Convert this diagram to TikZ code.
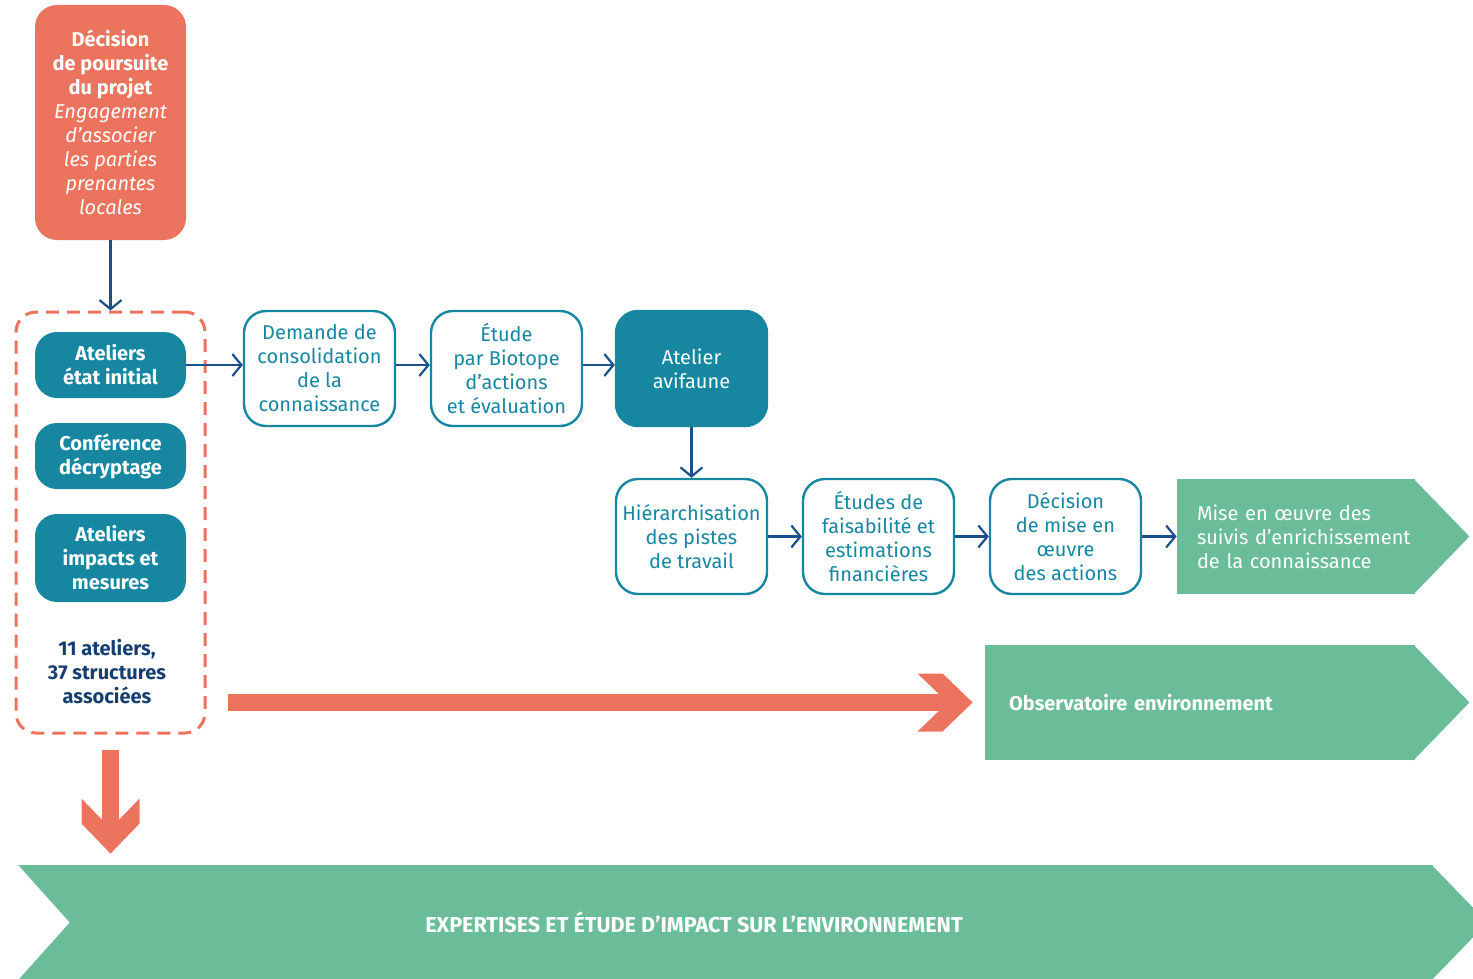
\documentclass[tikz,border=0pt]{standalone}
\usepackage{fontspec}
\setmainfont{Fira Sans}
\usetikzlibrary{arrows.meta,positioning,backgrounds}
\definecolor{SalmonClr}{rgb}{0.925,0.455,0.373}
\definecolor{TealClr}{rgb}{0.09,0.525,0.627}
\definecolor{NavyClr}{rgb}{0.106,0.314,0.545}
\definecolor{GreenClr}{rgb}{0.420,0.741,0.604}
\definecolor{InkClr}{rgb}{0.086,0.247,0.435}

\begin{document}
\begin{tikzpicture}[x=0.5pt,y=-0.5pt,
  font=\fontsize{10}{12}\selectfont,
  stepbox/.style={draw=TealClr,line width=1.2pt,rounded corners=11pt,text=TealClr,
    minimum width=75.5pt,minimum height=57.5pt,align=center,inner sep=1pt},
  tealbox/.style={fill=TealClr,rounded corners=11pt,text=white,
    font=\fontsize{10}{12}\selectfont\bfseries,minimum width=75.5pt,align=center,inner sep=1pt},
  grpbox/.style={draw=SalmonClr,line width=1.5pt,dash pattern=on 6.5pt off 4pt,
    rounded corners=10pt,minimum width=94.5pt,minimum height=210.5pt},
  greenbox/.style={fill=GreenClr,text=white,minimum height=57.5pt,align=left,inner sep=0pt},
  link/.style={draw=NavyClr,line width=1.1pt,-{Straight Barb[length=4.5pt,width=11pt]}},
  bigline/.style={draw=SalmonClr,line width=8.5pt},
  bighead/.style={fill=SalmonClr}
]
\useasboundingbox (0,0) rectangle (1473,979);

% left column
\node[tealbox,fill=SalmonClr,minimum height=117.5pt] (poursuite) at (110.5,122.5)
  {Décision\\de poursuite\\du projet\\{\mdseries\itshape Engagement}\\{\mdseries\itshape d’associer}\\
   {\mdseries\itshape les parties}\\{\mdseries\itshape prenantes}\\{\mdseries\itshape locales}};
\node[grpbox] (grp) at (110.5,522.5) {};
\node[tealbox,minimum height=33pt] (etat) at (110.5,365) {Ateliers\\état initial};
\node[tealbox,minimum height=33pt] (conf) at (110.5,456) {Conférence\\décryptage};
\node[tealbox,minimum height=44pt] (impacts) at (110.5,558) {Ateliers\\impacts et\\mesures};
\node[text=InkClr,font=\fontsize{10}{12}\selectfont\bfseries,align=center] (nb) at (107,672)
  {11 ateliers,\\37 structures\\associées};

% first row
\node[stepbox] (demande) at (319.5,368.5) {Demande de\\consolidation\\de la\\connaissance};
\node[stepbox] (etude) at (506.5,368.5) {Étude\\par Biotope\\d’actions\\et évaluation};
\node[stepbox,fill=TealClr,text=white] (avifaune) at (691.5,368.5) {Atelier\\avifaune};

% second row
\node[stepbox] (hier) at (691.5,536.5) {Hiérarchisation\\des pistes\\de travail};
\node[stepbox] (faisab) at (878.5,536.5) {Études de\\faisabilité et\\estimations\\financières};
\node[stepbox] (decmise) at (1065.5,536.5) {Décision\\de mise en\\œuvre\\des actions};

% green arrows
\node[greenbox,text width=99pt,inner xsep=10pt] (mise) at (1296,536.5)
  {Mise en œuvre des\\\mbox{suivis d’enrichissement}\\de la connaissance};
\node[greenbox,text width=191pt,inner xsep=12pt,font=\fontsize{10}{12}\selectfont\bfseries] (obs) at (1200,702.5)
  {Observatoire environnement};
\node[greenbox,minimum width=707.5pt,
  label={[text=white,font=\fontsize{10.8}{12}\selectfont\bfseries,xshift=-15.75pt]center:EXPERTISES ET ÉTUDE D’IMPACT SUR L’ENVIRONNEMENT}]
  (expert) at (725.5,922.5) {};
\fill[white] (expert.north west) -- ([xshift=26pt]expert.west) -- (expert.south west) -- cycle;
\begin{pgfonlayer}{background}
\foreach \n in {mise,obs,expert}
  \fill[GreenClr] ([xshift=-1pt]\n.north east) -- ([xshift=27pt]\n.east) -- ([xshift=-1pt]\n.south east) -- cycle;
\end{pgfonlayer}

% links
\draw[link] (poursuite.south) -- (poursuite.south |- grp.north);
\draw[link] (etat.east) -- (etat.east -| demande.west);
\draw[link] (demande.east |- etat) -- (etude.west |- etat);
\draw[link] (etude.east |- etat) -- (avifaune.west |- etat);
\draw[link] (avifaune) -- (hier);
\draw[link] (hier) -- (faisab);
\draw[link] (faisab) -- (decmise);
\draw[link] (decmise) -- (decmise -| mise.west);

% big salmon arrows
\coordinate (obstip) at ([xshift=-6pt]obs.west);
\coordinate (experttip) at ([yshift=5.5pt]grp.south |- expert.north);
\draw[bigline] ([xshift=10.5pt]grp.east |- obs) -- ([xshift=-13pt]obstip);
\fill[bighead] (obstip) -- ++(-30,-29) -- ++(-25,0) -- ++(30,29) -- ++(-30,29) -- ++(25,0) -- cycle;
\draw[bigline] ([yshift=-7.5pt]grp.south) -- ([yshift=13pt]experttip);
\fill[bighead] (experttip) -- ++(-29,-30) -- ++(0,-25) -- ++(29,30) -- ++(29,-30) -- ++(0,25) -- cycle;
\end{tikzpicture}
\end{document}
